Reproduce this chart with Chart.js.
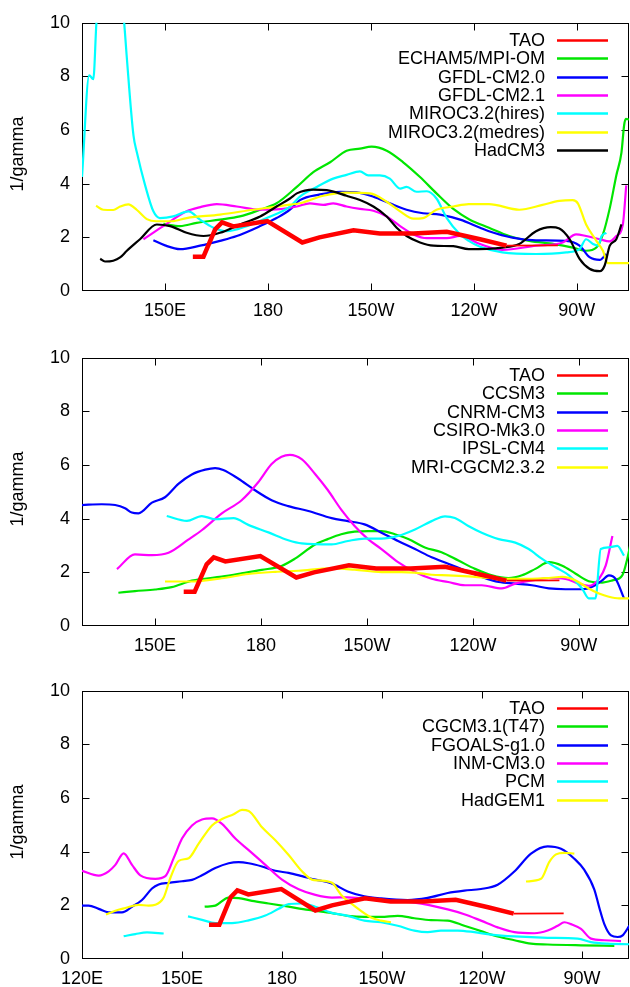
<!DOCTYPE html>
<html>
<head>
<meta charset="utf-8">
<script src="https://cdn.jsdelivr.net/npm/chart.js@4.4.1/dist/chart.umd.min.js"></script>
<style>
  html, body { margin: 0; padding: 0; background: #fff; }
  body { width: 630px; height: 987px; position: relative; overflow: hidden; }
  canvas { position: absolute; left: 0; }
</style>
</head>
<body>
<canvas id="p1" width="630" height="325" style="top:0px"></canvas>
<canvas id="p2" width="630" height="325" style="top:335px"></canvas>
<canvas id="p3" width="630" height="325" style="top:668px"></canvas>
<script>
/* axis ticks */
const lonTicks = [120, 150, 180, 210, 240, 270];
const lonTickLabels = ['120E', '150E', '180', '150W', '120W', '90W'];
const gammaTicks = [0, 2, 4, 6, 8, 10];

/* 1/gamma along the equator, [longitude (deg E), value] */
const tao = [[158.1,1.28],[161.2,1.28],[164.6,2.3],[166.6,2.56],[169.9,2.41],[179.8,2.61],[190,1.81],[195,2.0],[204.9,2.26],[212.6,2.14],[222.4,2.14],[232.1,2.21],[241.8,1.93],[249.5,1.69],[264.5,1.7]];

const echam5 = [[149.5,2.5],[154.4,2.42],[159.2,2.54],[166,2.66],[171.8,2.78],[177.7,3.03],[182.5,3.27],[188.4,3.88],[193.2,4.43],[198.1,4.8],[202.9,5.23],[206.8,5.31],[210.2,5.38],[214.6,5.23],[219.4,4.8],[224.3,4.25],[229.1,3.64],[234,3.06],[238.8,2.66],[244.4,2.36],[250.3,2.05],[256.1,1.87],[263.4,1.75],[268.8,1.62],[272.7,1.5],[275.7,1.62],[277.6,2.11],[279.6,3.09],[281.5,4.31],[283,5.16],[283.8,6.2],[284.3,6.42],[285.2,6.39]];
const gfdl20 = [[146.6,1.89],[150,1.7],[154.4,1.56],[160.2,1.69],[166,1.87],[170.9,2.05],[177.7,2.42],[182.5,2.72],[186.4,3.03],[189.3,3.39],[195.2,3.6],[201,3.7],[205.8,3.68],[210.7,3.52],[215.5,3.27],[220.4,3.03],[225.2,2.9],[230.1,2.85],[236,2.66],[241.8,2.36],[244.4,2.23],[251.2,1.99],[258.1,1.89],[266.9,1.87],[270.8,1.69],[273.7,1.26],[276.7,1.16],[278.6,1.38]];
const gfdl21 = [[143.7,1.93],[149.5,2.42],[156.3,2.97],[160,3.12],[165.1,3.24],[170.9,3.15],[177.7,3.03],[183.5,3.05],[188.4,3.15],[192.2,3.27],[196.1,3.21],[199,3.27],[202.9,3.15],[206.8,3.06],[210.7,2.99],[214.6,2.78],[218.5,2.42],[222.4,2.11],[226.3,1.97],[232.1,1.97],[236,2.05],[241.8,1.75],[248.3,1.53],[258.1,1.69],[265.9,1.81],[269.8,2.11],[272.7,2.05],[276.7,1.93],[279.5,1.85],[281.5,2.05],[283.4,2.48],[284.4,3.94]];
const mirocHires = [[125.8,4.25],[127.9,8.04],[129.1,7.9],[130,10],[131,11.5],[137,11.5],[138.1,10],[138.8,8.8],[140.8,5.8],[141.8,5.16],[144.2,3.94],[146.6,2.97],[148.5,2.72],[152.4,2.78],[156.8,2.97],[160.2,2.66],[164.1,2.36],[168,2.23],[173.8,2.42],[179.6,2.72],[186.4,3.15],[189.3,3.52],[194.2,3.88],[199,4.19],[202.9,4.33],[206.8,4.46],[209.2,4.31],[212.6,4.31],[215.5,4.19],[218.5,3.82],[220.4,3.88],[223.3,3.7],[226.3,3.72],[229.1,3.45],[232.1,2.72],[236,2.11],[238.5,1.87],[241.8,1.65],[248.3,1.44],[258.1,1.38],[266.9,1.44],[270.8,1.56],[272.7,1.93],[274.7,1.75],[276.2,1.69],[277.2,2.05],[278.6,2.17]];
const mirocMedres = [[129.9,3.18],[132,3.03],[134.9,3.02],[136.9,3.15],[139.3,3.23],[141.8,3.02],[144.7,2.68],[147.5,2.6],[152,2.6],[156.3,2.72],[166,2.85],[175.7,3.03],[181,3.12],[186.4,3.22],[189.3,3.27],[196.1,3.55],[202.9,3.67],[209.7,3.64],[214.6,3.33],[218.5,2.97],[222.4,2.7],[225.2,2.72],[229.1,3.03],[234,3.15],[238.5,3.24],[244.4,3.24],[253.2,3.03],[260,3.21],[264.9,3.36],[268.8,3.39],[270.3,3.27],[272.7,2.48],[275.7,1.87],[277.6,1.5],[279,1.04],[285.2,1.04]];
const hadcm3 = [[131.1,1.2],[132.5,1.1],[134.9,1.13],[136.9,1.25],[138.8,1.49],[142.7,1.93],[147.6,2.48],[151.5,2.42],[156.3,2.17],[161.2,2.05],[166,2.17],[171.8,2.48],[177.7,2.78],[182.5,3.15],[186.4,3.45],[188.4,3.64],[193.2,3.78],[197.1,3.76],[202.9,3.55],[206.8,3.39],[210.7,3.15],[214.6,2.78],[217.5,2.36],[220.4,2.05],[224.3,1.81],[228.2,1.69],[234,1.67],[238.5,1.56],[248.3,1.62],[253.2,1.75],[258.1,2.23],[262.4,2.38],[264.9,2.33],[267.9,1.93],[270.8,1.2],[273.7,0.83],[276.7,0.74],[278.1,0.95],[279.6,1.69],[281.5,1.93],[283,2.48]];

const ccsm3 = [[139.6,1.24],[144.3,1.3],[150,1.36],[154.7,1.45],[160.4,1.69],[168.9,1.84],[174.5,1.96],[180.2,2.09],[185.8,2.24],[189.6,2.51],[195.3,3.04],[198.9,3.24],[202.7,3.42],[206.5,3.52],[210.3,3.54],[214.1,3.54],[217.9,3.42],[221.7,3.24],[226.4,2.93],[231.1,2.75],[235.9,2.44],[240.6,2.13],[245.4,1.89],[250.1,1.79],[253.9,1.89],[257.7,2.13],[261.5,2.38],[265.3,2.25],[269.1,1.95],[272.8,1.67],[276.6,1.62],[279.5,1.7],[282.3,1.89],[283.7,2.5],[284.7,3.11]];
const cnrm = [[129.2,4.51],[134.9,4.54],[138.7,4.51],[141.5,4.39],[143.4,4.23],[145.3,4.2],[149.1,4.6],[152.8,4.8],[156.6,5.3],[160.4,5.65],[164.2,5.83],[167,5.89],[169.3,5.82],[173.6,5.49],[178.3,5.06],[183,4.69],[187.7,4.47],[193.4,4.29],[200,4.02],[204.6,3.91],[209.3,3.79],[214.1,3.48],[218.8,3.17],[223.6,2.87],[228.3,2.56],[233,2.32],[237.8,2.07],[242.5,1.83],[247.3,1.64],[252,1.58],[256.7,1.52],[261.5,1.4],[266.2,1.37],[270.9,1.37],[273.8,1.46],[276.6,1.7],[278.5,1.89],[280.4,1.76],[282.8,1.03]];
const csiro = [[139.2,2.12],[144.3,2.67],[149.1,2.64],[153.8,2.73],[159.4,3.22],[163.2,3.57],[168.9,4.2],[174.5,4.69],[179.2,5.36],[183,6.04],[185.8,6.31],[188.2,6.38],[191.5,6.22],[195.3,5.67],[198.9,5.07],[202.7,4.34],[206.5,3.73],[210.3,3.24],[214.1,2.87],[218.8,2.38],[223.6,2.01],[228.3,1.76],[233,1.64],[237.8,1.52],[242.5,1.52],[248.2,1.4],[252,1.58],[256.7,1.7],[261.5,1.79],[266.2,1.76],[270,1.58],[272.8,1.5],[275.7,1.76],[277.6,2.25],[279.5,3.36]];
const ipsl = [[153.3,4.1],[159,3.92],[163.2,4.1],[167,3.98],[172.2,4.02],[176.4,3.77],[182.1,3.49],[187.7,3.2],[191.5,3.08],[200,3.04],[204.6,3.17],[209.3,3.26],[214.1,3.26],[218.8,3.36],[223.6,3.6],[228.3,3.91],[232.1,4.09],[234.9,4.03],[238.7,3.73],[242.5,3.48],[247.3,3.24],[252,3.11],[255.8,2.87],[259.6,2.5],[263.4,2.19],[267.2,1.89],[270.9,1.4],[272.8,1.03],[274.7,1.03],[276.2,2.87],[278.5,2.93],[280.9,2.99],[282.8,2.62]];
const mri = [[152.8,1.66],[160.4,1.66],[168.9,1.78],[176.4,1.94],[184,2.02],[190.6,2.06],[200,2.15],[206.5,2.1],[214.1,2.01],[219.8,2.01],[223.6,1.99],[228.3,1.91],[233,1.89],[238.7,1.85],[244.4,1.79],[250.1,1.76],[256.7,1.76],[261.5,1.79],[265.3,1.83],[269.1,1.7],[272.8,1.4],[275.7,1.21],[278.5,1.09],[281.4,1.03],[284.7,1.03]];

const cgcm31 = [[156.8,1.95],[160,1.99],[164,2.29],[167,2.27],[171,2.17],[176,2.07],[182,1.95],[188,1.83],[195,1.71],[199.7,1.61],[204.7,1.57],[209.7,1.57],[214.7,1.61],[219.7,1.52],[224.7,1.45],[229.7,1.43],[234.7,1.24],[239.7,1.04],[244.7,0.84],[249.7,0.7],[254.7,0.57],[259.7,0.54],[269.7,0.51],[279.7,0.49]];
const fgoals = [[120,1.99],[122,1.99],[125,1.87],[128,1.74],[132,1.74],[135,1.95],[138,2.2],[141,2.63],[143,2.78],[146,2.84],[150,2.9],[153,2.95],[156,3.12],[160,3.39],[164,3.57],[167,3.61],[170,3.57],[174,3.45],[178,3.29],[182,3.21],[186,3.09],[190,2.96],[194.7,2.83],[199.7,2.52],[204.7,2.34],[209.7,2.26],[217.7,2.2],[223.7,2.28],[229.7,2.46],[234.7,2.55],[239.7,2.61],[244.7,2.77],[249.7,3.26],[254.7,3.93],[259.7,4.2],[263.7,4.11],[267.7,3.74],[270.7,3.32],[273.7,2.59],[275.2,1.91],[276.7,1.3],[278.7,0.88],[280.7,0.82],[282.2,0.88],[284.2,1.24]];
const inm = [[120,3.29],[125,3.11],[128,3.27],[130,3.51],[132.5,3.94],[135,3.51],[137.5,3.12],[142,2.99],[145,3.09],[147.5,3.76],[150,4.49],[153,4.98],[156,5.2],[159,5.24],[162,5.04],[166,4.49],[170,4.06],[175,3.51],[180,2.96],[185,2.6],[190,2.39],[195,2.29],[199.7,2.3],[209.7,2.18],[219.7,2.1],[229.7,1.85],[234.7,1.67],[239.7,1.43],[244.7,1.18],[249.7,1.0],[255.7,0.96],[259.7,1.06],[262.7,1.24],[264.7,1.37],[266.7,1.3],[269.7,1.12],[272.7,0.76],[276.7,0.7],[281.7,0.67]];
const pcm = [[132.5,0.85],[136,0.93],[139.5,0.99],[144.5,0.95],[148,null],[151.8,1.59],[156,1.46],[160,1.34],[165,1.34],[170,1.44],[175,1.62],[179,1.87],[182,2.05],[186,2.07],[190,1.95],[194.7,1.73],[199.7,1.61],[204.7,1.43],[209.7,1.37],[214.7,1.24],[219.7,1.06],[223.7,1.0],[227.7,1.06],[232.7,1.06],[237.7,1.0],[242.7,0.91],[249.7,0.84],[259.7,0.79],[268.7,0.76],[272.7,0.63],[277.7,0.57],[284.2,0.55]];
const hadgem1 = [[127.2,1.66],[130,1.8],[133,1.9],[137,2.02],[140,1.99],[142,2.02],[144.5,2.29],[146.5,3.02],[149,3.66],[152,3.76],[155,4.3],[159,4.98],[162,5.22],[165.5,5.4],[168,5.56],[170,5.52],[174,4.91],[178,4.43],[182,3.88],[186,3.27],[189,2.96],[191,2.93],[195,2.84],[197.7,2.4],[201.7,1.98],[206.7,1.55],[209.7,1.43],[212.7,1.37],[230,null],[253.2,2.89],[257.7,2.99],[260.2,3.62],[262.2,3.9],[264.7,3.96],[267.7,3.93]];

const RED = '#ff0000', GREEN = '#00e600', BLUE = '#0000ff', MAGENTA = '#ff00ff',
      CYAN = '#00ffff', YELLOW = '#ffff00', BLACK = '#000000';

const FONT = '"Liberation Sans", Arial, Helvetica, sans-serif';
const FONT_SIZE = 18;
const TICK = 7;

Chart.defaults.font.family = FONT;
Chart.defaults.font.size = FONT_SIZE;
Chart.defaults.color = '#000';

/* gnuplot style box with inward ticks on all four sides */
const frame = {
  id: 'frame',
  beforeDatasetsDraw(chart) {
    const ctx = chart.ctx, a = chart.chartArea;
    const xs = chart.scales.x, ys = chart.scales.y;
    const l = Math.round(a.left) + 0.5, r = Math.round(a.right) - 0.5;
    const t = Math.round(a.top) + 0.5, b = Math.round(a.bottom) - 0.5;
    ctx.save();
    ctx.strokeStyle = '#000';
    ctx.lineWidth = 1;
    ctx.strokeRect(l, t, r - l, b - t);
    ctx.beginPath();
    xs.ticks.forEach(function (tk) {
      const px = Math.round(xs.getPixelForValue(tk.value)) + 0.5;
      if (px <= l + 1 || px >= r - 1) return;
      ctx.moveTo(px, b); ctx.lineTo(px, b - TICK);
      ctx.moveTo(px, t); ctx.lineTo(px, t + TICK);
    });
    ys.ticks.forEach(function (tk) {
      const py = Math.round(ys.getPixelForValue(tk.value)) + 0.5;
      if (py <= t + 1 || py >= b - 1) return;
      ctx.moveTo(l, py); ctx.lineTo(l + TICK, py);
      ctx.moveTo(r, py); ctx.lineTo(r - TICK, py);
    });
    ctx.stroke();
    ctx.restore();
  }
};

/* key in the top right corner (text right aligned, sample on the right) and the y label */
const keyAndLabel = {
  id: 'keyAndLabel',
  afterDraw(chart) {
    const ctx = chart.ctx, a = chart.chartArea;
    ctx.save();
    ctx.font = FONT_SIZE + 'px ' + FONT;
    ctx.textAlign = 'right';
    ctx.textBaseline = 'middle';
    chart.data.datasets.forEach(function (ds, i) {
      const yy = Math.round(a.top + 17 + i * 18.4) + 0.5;
      ctx.fillStyle = '#000';
      ctx.fillText(ds.label, 545, yy + 1);
      ctx.strokeStyle = ds.borderColor;
      ctx.lineWidth = 2.3;
      ctx.beginPath();
      ctx.moveTo(557, yy);
      ctx.lineTo(608, yy);
      ctx.stroke();
    });
    ctx.translate(18, (a.top + a.bottom) / 2 - 3);
    ctx.rotate(-Math.PI / 2);
    ctx.textAlign = 'center';
    ctx.fillText('1/gamma', 0, 0);
    ctx.restore();
  }
};

function toPoints(arr) {
  return arr.map(function (p) { return {x: p[0], y: p[1]}; });
}

function makePanel(id, xMin, xMax, series) {
  const n = series.length;
  const datasets = series.map(function (s, i) {
    const isTao = s[0] === 'TAO';
    return {
      label: s[0],
      data: toPoints(s[2]),
      borderColor: s[1],
      backgroundColor: s[1],
      borderWidth: isTao ? 4.5 : 2.2,
      pointRadius: 0,
      fill: false,
      spanGaps: false,
      clip: 0,
      tension: 0,
      cubicInterpolationMode: isTao ? 'default' : 'monotone',
      borderJoinStyle: isTao ? 'miter' : 'round',
      // last stretch of the TAO curve is drawn thin
      segment: isTao ? { borderWidth: function (c) { return c.p0.parsed.x >= 249 ? 1.8 : undefined; } } : {},
      order: isTao ? 0 : n - i
    };
  });

  return new Chart(document.getElementById(id), {
    type: 'line',
    data: { datasets: datasets },
    plugins: [frame, keyAndLabel],
    options: {
      responsive: false,
      animation: false,
      devicePixelRatio: 1,
      layout: { padding: { top: 18, right: 1, left: 0, bottom: 0 } },
      plugins: { legend: { display: false }, tooltip: { enabled: false } },
      scales: {
        x: {
          type: 'linear',
          min: xMin,
          max: xMax,
          grid: { display: false, drawTicks: false },
          border: { display: false },
          afterBuildTicks: function (sc) {
            sc.ticks = lonTicks.filter(function (v) { return v >= sc.min - 1e-6 && v <= sc.max; })
                               .map(function (v) { return {value: v}; });
          },
          afterFit: function (sc) { sc.height = 34; },
          ticks: {
            padding: 9,
            maxRotation: 0,
            autoSkip: false,
            color: '#000',
            callback: function (v) { return lonTickLabels[lonTicks.indexOf(v)]; }
          }
        },
        y: {
          type: 'linear',
          min: 0,
          max: 10,
          grid: { display: false, drawTicks: false },
          border: { display: false },
          afterBuildTicks: function (sc) {
            sc.ticks = gammaTicks.map(function (v) { return {value: v}; });
          },
          afterFit: function (sc) { sc.width = 82; },
          ticks: {
            padding: 12,
            color: '#000',
            callback: function (v) { return String(v); }
          }
        }
      }
    }
  });
}

makePanel('p1', 125.8, 285.2, [
  ['TAO', RED, tao],
  ['ECHAM5/MPI-OM', GREEN, echam5],
  ['GFDL-CM2.0', BLUE, gfdl20],
  ['GFDL-CM2.1', MAGENTA, gfdl21],
  ['MIROC3.2(hires)', CYAN, mirocHires],
  ['MIROC3.2(medres)', YELLOW, mirocMedres],
  ['HadCM3', BLACK, hadcm3]
]);

makePanel('p2', 129.3, 284.2, [
  ['TAO', RED, tao],
  ['CCSM3', GREEN, ccsm3],
  ['CNRM-CM3', BLUE, cnrm],
  ['CSIRO-Mk3.0', MAGENTA, csiro],
  ['IPSL-CM4', CYAN, ipsl],
  ['MRI-CGCM2.3.2', YELLOW, mri]
]);

makePanel('p3', 120, 284.1, [
  ['TAO', RED, tao],
  ['CGCM3.1(T47)', GREEN, cgcm31],
  ['FGOALS-g1.0', BLUE, fgoals],
  ['INM-CM3.0', MAGENTA, inm],
  ['PCM', CYAN, pcm],
  ['HadGEM1', YELLOW, hadgem1]
]);
</script>
</body>
</html>
